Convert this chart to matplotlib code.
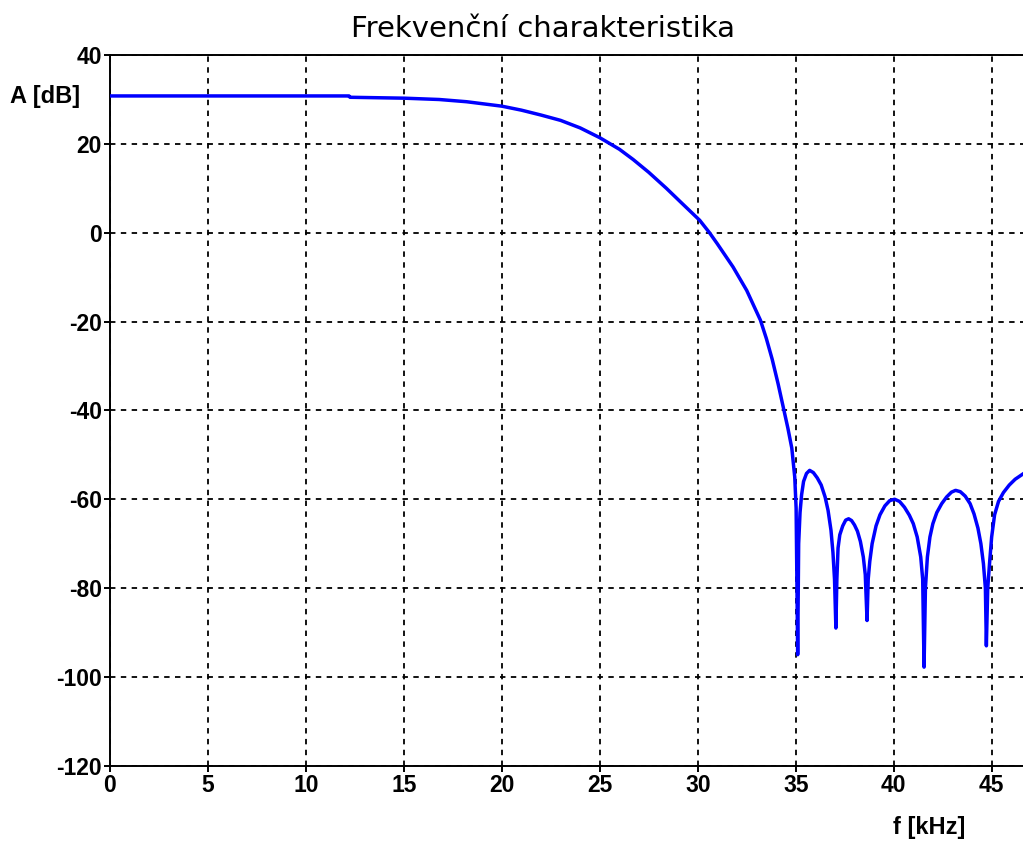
import numpy as np
import matplotlib
matplotlib.use('Agg')
import matplotlib.pyplot as plt

plt.rcParams['axes.unicode_minus'] = False

# frequency response (f in kHz, A in dB)
f_khz = [0.0, 12.2, 12.25, 15.0, 16.8, 18.2, 19.1, 20.0, 21.0, 22.0, 23.0, 24.0,
         25.0, 26.0, 26.7, 27.5, 28.4, 29.2, 30.1, 30.6, 31.0, 31.8, 32.5, 33.2,
         33.5, 33.8, 34.1, 34.4, 34.6, 34.8, 34.95, 35.02,
         35.1, 35.15, 35.22, 35.3, 35.4, 35.55, 35.71, 35.9, 36.1, 36.3, 36.5, 36.65,
         36.8, 36.9, 36.98, 37.05,
         37.1, 37.16, 37.25, 37.4, 37.55, 37.7, 37.85, 38.0, 38.15, 38.3, 38.45, 38.55,
         38.64,
         38.7, 38.78, 38.9, 39.1, 39.3, 39.55, 39.8, 40.05, 40.3, 40.55, 40.8, 41.0,
         41.2, 41.38, 41.48, 41.55,
         41.62, 41.72, 41.85, 42.0, 42.2, 42.45, 42.7, 42.95, 43.16, 43.4, 43.65, 43.9,
         44.1, 44.3, 44.45, 44.58, 44.68, 44.73,
         44.8, 44.9, 45.0, 45.15, 45.35, 45.6, 45.9, 46.2, 46.6]
a_db = [30.8, 30.8, 30.5, 30.3, 30.0, 29.5, 29.0, 28.5, 27.6, 26.5, 25.3, 23.6,
        21.4, 18.8, 16.5, 13.6, 10.0, 6.6, 2.8, 0.0, -2.5, -7.7, -13.0, -19.7,
        -23.8, -28.5, -34.0, -40.0, -44.0, -48.5, -55.0, -62.0,
        -95.0, -70.0, -63.0, -59.0, -56.0, -54.2, -53.5, -54.0, -55.2, -56.8, -59.5, -62.5,
        -67.0, -72.0, -78.0, -89.0,
        -78.0, -71.0, -68.0, -66.0, -64.7, -64.4, -64.8, -65.8, -67.2, -69.5, -73.0, -77.0,
        -87.3,
        -78.0, -74.0, -70.0, -66.0, -63.5, -61.5, -60.3, -60.0, -60.5, -61.8, -63.6, -65.5,
        -68.5, -73.0, -78.0, -97.8,
        -80.0, -73.0, -68.5, -65.5, -63.0, -61.0, -59.5, -58.4, -58.0, -58.3, -59.3, -61.0,
        -63.3, -66.5, -70.0, -74.5, -80.0, -93.0,
        -80.0, -74.0, -68.5, -63.5, -60.5, -58.5, -56.8, -55.5, -54.3]

x_ticks = [0, 5, 10, 15, 20, 25, 30, 35, 40, 45]
y_ticks = [-120, -100, -80, -60, -40, -20, 0, 20, 40]

fnt = ['Liberation Sans', 'DejaVu Sans']

fig = plt.figure(figsize=(10.23, 8.41), dpi=100)
ax = fig.add_axes([0.1075, 0.0895, 0.8925, 0.845])

ax.plot(f_khz, a_db, color='#0000ff', lw=2.5, zorder=3)

ax.set_xlim(0, 46.6)
ax.set_ylim(-120, 40)
ax.set_xticks(x_ticks)
ax.set_yticks(y_ticks)
ax.grid(True, color='black', ls=(0, (3, 3)), lw=1.3)
ax.spines['right'].set_visible(False)
for s in ['left', 'bottom', 'top']:
    ax.spines[s].set_linewidth(1.4)
ax.tick_params(direction='out', length=4, width=1.4, pad=2)
for lab in ax.get_xticklabels() + ax.get_yticklabels():
    lab.set_family(fnt)
    lab.set_fontweight('bold')
    lab.set_fontsize(16.5)

fig.text(0.531, 0.966, 'Frekvenční charakteristika', fontsize=21,
         family=['DejaVu Sans'], ha='center', va='center')
fig.text(0.01, 0.885, 'A [dB]', fontsize=17, fontweight='bold', family=fnt, ha='left', va='center')
fig.text(0.873, 0.016, 'f [kHz]', fontsize=17, fontweight='bold', family=fnt, ha='left', va='center')

fig.savefig('out.png', dpi=100)
